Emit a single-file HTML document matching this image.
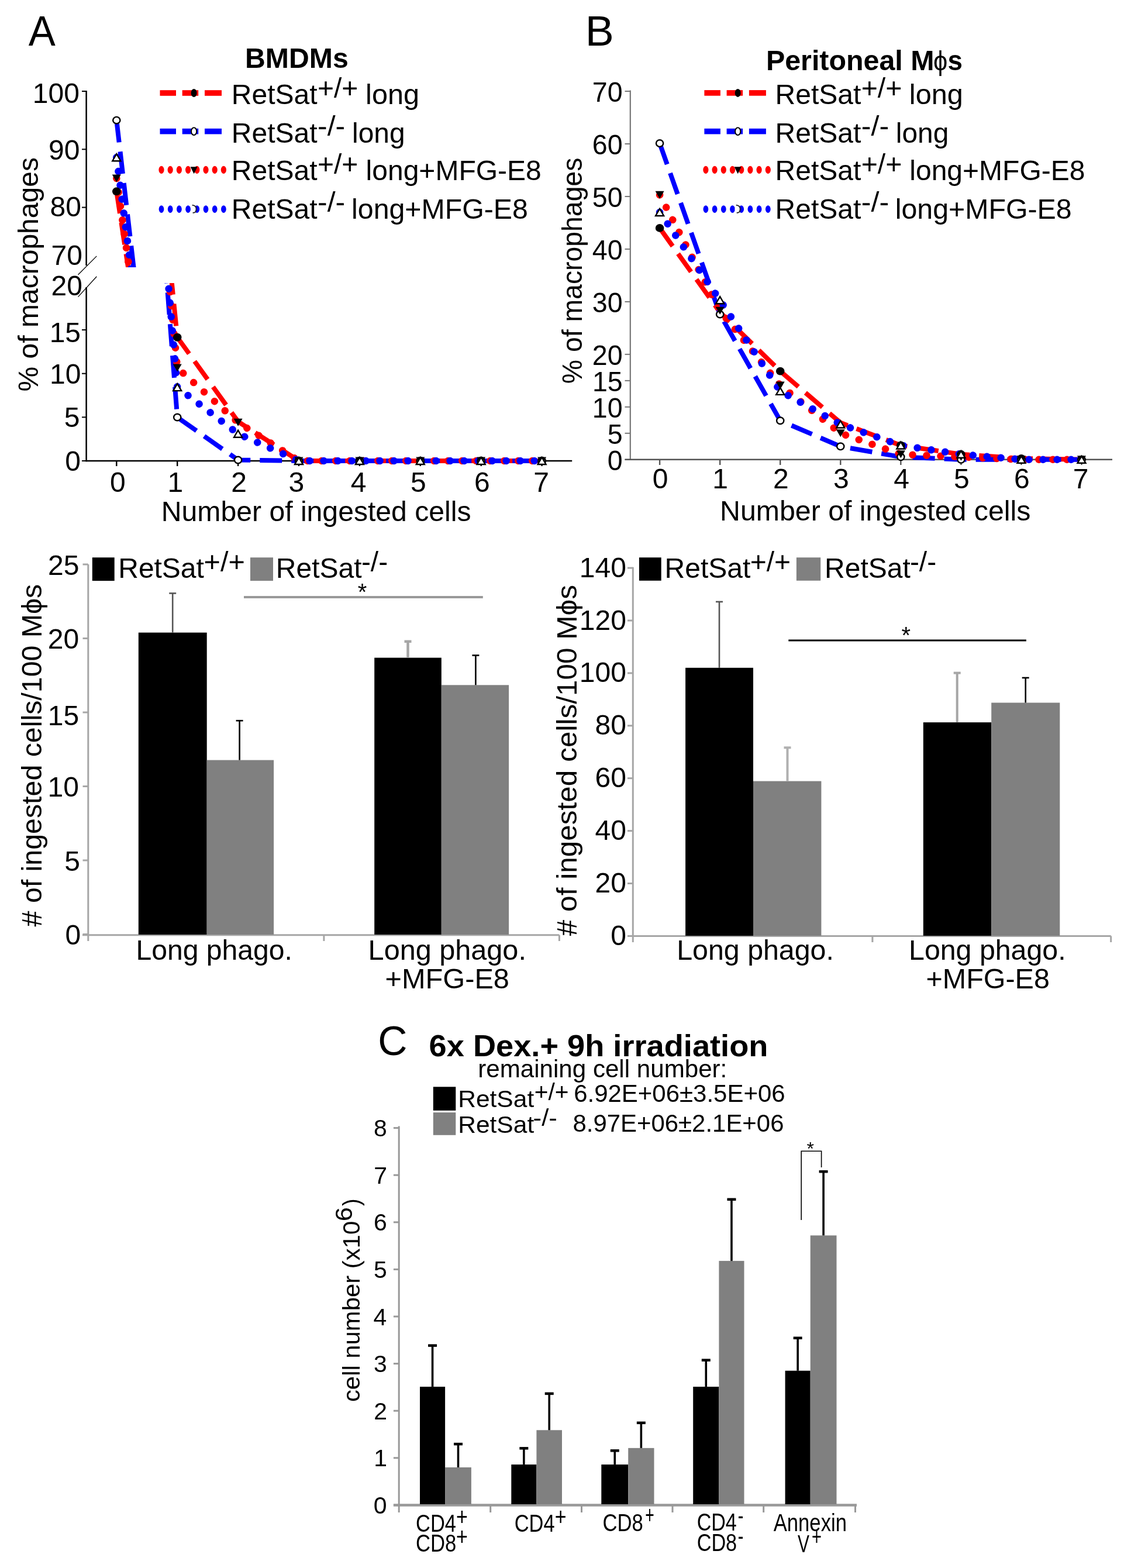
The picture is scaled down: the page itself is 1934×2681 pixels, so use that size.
<!DOCTYPE html>
<html><head><meta charset="utf-8"><title>Figure</title>
<style>
html,body{margin:0;padding:0;background:#fff;}
svg{display:block;}
text{font-family:'Liberation Sans',sans-serif;}
</style></head>
<body>
<svg width="1934" height="2681" viewBox="0 0 1934 2681">
<rect x="0" y="0" width="1934" height="2681" fill="#fff"/>
<text x="48.76" y="78.00" font-size="73" fill="#000" textLength="46.08" lengthAdjust="spacingAndGlyphs">A</text>
<text x="418.97" y="115.70" font-size="49" font-weight="bold" fill="#000" textLength="176.73" lengthAdjust="spacingAndGlyphs">BMDMs</text>
<text x="395.86" y="178.20" font-size="48" fill="#000" textLength="146.74" lengthAdjust="spacingAndGlyphs">RetSat</text>
<text x="542.95" y="166.50" font-size="48" fill="#000" textLength="69.39" lengthAdjust="spacingAndGlyphs">+/+</text>
<text x="625.14" y="178.20" font-size="48" fill="#000" textLength="92.01" lengthAdjust="spacingAndGlyphs">long</text>
<text x="395.86" y="243.50" font-size="48" fill="#000" textLength="146.74" lengthAdjust="spacingAndGlyphs">RetSat</text>
<text x="543.11" y="231.80" font-size="48" fill="#000" textLength="47.08" lengthAdjust="spacingAndGlyphs">-/-</text>
<text x="601.99" y="243.50" font-size="48" fill="#000" textLength="90.61" lengthAdjust="spacingAndGlyphs">long</text>
<text x="395.86" y="308.30" font-size="48" fill="#000" textLength="146.74" lengthAdjust="spacingAndGlyphs">RetSat</text>
<text x="542.95" y="296.60" font-size="48" fill="#000" textLength="69.39" lengthAdjust="spacingAndGlyphs">+/+</text>
<text x="625.58" y="308.30" font-size="48" fill="#000" textLength="300.20" lengthAdjust="spacingAndGlyphs">long+MFG-E8</text>
<text x="395.86" y="373.50" font-size="48" fill="#000" textLength="146.74" lengthAdjust="spacingAndGlyphs">RetSat</text>
<text x="543.11" y="361.80" font-size="48" fill="#000" textLength="47.08" lengthAdjust="spacingAndGlyphs">-/-</text>
<text x="601.07" y="373.50" font-size="48" fill="#000" textLength="301.83" lengthAdjust="spacingAndGlyphs">long+MFG-E8</text>
<rect x="273.50" y="154.20" width="27.50" height="9.60" fill="#ff0000"/>
<rect x="311.70" y="154.20" width="27.50" height="9.60" fill="#ff0000"/>
<rect x="350.00" y="154.20" width="29.00" height="9.60" fill="#ff0000"/>
<ellipse cx="331.60" cy="159.00" rx="5" ry="7" fill="#000"/>
<rect x="273.50" y="219.80" width="27.50" height="9.60" fill="#0000ff"/>
<rect x="311.70" y="219.80" width="27.50" height="9.60" fill="#0000ff"/>
<rect x="350.00" y="219.80" width="29.00" height="9.60" fill="#0000ff"/>
<ellipse cx="331.60" cy="224.60" rx="4.6" ry="6.4" fill="#fff" stroke="#000" stroke-width="2"/>
<ellipse cx="276.00" cy="290.30" rx="4.6" ry="6.6" fill="#ff0000"/>
<ellipse cx="291.20" cy="290.30" rx="4.6" ry="6.6" fill="#ff0000"/>
<ellipse cx="306.40" cy="290.30" rx="4.6" ry="6.6" fill="#ff0000"/>
<ellipse cx="321.60" cy="290.30" rx="4.6" ry="6.6" fill="#ff0000"/>
<ellipse cx="336.80" cy="290.30" rx="4.6" ry="6.6" fill="#ff0000"/>
<ellipse cx="352.00" cy="290.30" rx="4.6" ry="6.6" fill="#ff0000"/>
<ellipse cx="367.20" cy="290.30" rx="4.6" ry="6.6" fill="#ff0000"/>
<ellipse cx="382.40" cy="290.30" rx="4.6" ry="6.6" fill="#ff0000"/>
<path d="M325.60,285.30 L337.60,285.30 L331.60,297.30 Z" fill="#000"/>
<ellipse cx="276.00" cy="357.60" rx="4.4" ry="6.3" fill="#0000ff"/>
<ellipse cx="291.20" cy="357.60" rx="4.4" ry="6.3" fill="#0000ff"/>
<ellipse cx="306.40" cy="357.60" rx="4.4" ry="6.3" fill="#0000ff"/>
<ellipse cx="321.60" cy="357.60" rx="4.4" ry="6.3" fill="#0000ff"/>
<ellipse cx="336.80" cy="357.60" rx="4.4" ry="6.3" fill="#0000ff"/>
<ellipse cx="352.00" cy="357.60" rx="4.4" ry="6.3" fill="#0000ff"/>
<ellipse cx="367.20" cy="357.60" rx="4.4" ry="6.3" fill="#0000ff"/>
<ellipse cx="382.40" cy="357.60" rx="4.4" ry="6.3" fill="#0000ff"/>
<ellipse cx="330.60" cy="357.60" rx="4.2" ry="6.2" fill="#fff"/>
<path d="M328.60,350.60 Q336.60,351.60 335.60,358.60 Q334.60,364.60 329.60,363.60" fill="none" stroke="#222" stroke-width="1.8"/>
<line x1="147.60" y1="155.00" x2="147.60" y2="454.00" stroke="#000" stroke-width="2.5"/>
<line x1="147.60" y1="491.00" x2="147.60" y2="789.20" stroke="#000" stroke-width="2.5"/>
<line x1="133.50" y1="469.70" x2="165.30" y2="437.90" stroke="#000" stroke-width="1.3"/>
<line x1="133.50" y1="507.60" x2="165.30" y2="472.70" stroke="#000" stroke-width="1.3"/>
<line x1="140.00" y1="156.00" x2="147.60" y2="156.00" stroke="#000" stroke-width="2"/>
<line x1="140.00" y1="255.30" x2="147.60" y2="255.30" stroke="#000" stroke-width="2"/>
<line x1="140.00" y1="354.60" x2="147.60" y2="354.60" stroke="#000" stroke-width="2"/>
<line x1="140.00" y1="564.05" x2="147.60" y2="564.05" stroke="#000" stroke-width="2"/>
<line x1="140.00" y1="638.70" x2="147.60" y2="638.70" stroke="#000" stroke-width="2"/>
<line x1="140.00" y1="713.35" x2="147.60" y2="713.35" stroke="#000" stroke-width="2"/>
<line x1="140.00" y1="788.00" x2="147.60" y2="788.00" stroke="#000" stroke-width="2"/>
<text x="55.81" y="176.00" font-size="48" fill="#000" textLength="80.09" lengthAdjust="spacingAndGlyphs">100</text>
<text x="83.00" y="273.00" font-size="48" fill="#000" textLength="53.39" lengthAdjust="spacingAndGlyphs">90</text>
<text x="85.50" y="370.20" font-size="48" fill="#000" textLength="53.39" lengthAdjust="spacingAndGlyphs">80</text>
<text x="87.50" y="453.00" font-size="48" fill="#000" textLength="53.39" lengthAdjust="spacingAndGlyphs">70</text>
<text x="87.50" y="504.60" font-size="48" fill="#000" textLength="53.39" lengthAdjust="spacingAndGlyphs">20</text>
<text x="84.64" y="584.50" font-size="48" fill="#000" textLength="53.39" lengthAdjust="spacingAndGlyphs">15</text>
<text x="85.00" y="655.90" font-size="48" fill="#000" textLength="53.39" lengthAdjust="spacingAndGlyphs">10</text>
<text x="109.83" y="729.50" font-size="48" fill="#000" textLength="26.70" lengthAdjust="spacingAndGlyphs">5</text>
<text x="111.18" y="805.00" font-size="48" fill="#000" textLength="26.70" lengthAdjust="spacingAndGlyphs">0</text>
<line x1="146.40" y1="788.00" x2="978.20" y2="788.00" stroke="#000" stroke-width="2.5"/>
<line x1="199.30" y1="788.00" x2="199.30" y2="797.00" stroke="#000" stroke-width="2.4"/>
<line x1="303.20" y1="788.00" x2="303.20" y2="797.00" stroke="#000" stroke-width="2.4"/>
<line x1="407.10" y1="788.00" x2="407.10" y2="797.00" stroke="#000" stroke-width="2.4"/>
<line x1="511.00" y1="788.00" x2="511.00" y2="797.00" stroke="#000" stroke-width="2.4"/>
<line x1="614.90" y1="788.00" x2="614.90" y2="797.00" stroke="#000" stroke-width="2.4"/>
<line x1="718.80" y1="788.00" x2="718.80" y2="797.00" stroke="#000" stroke-width="2.4"/>
<line x1="822.70" y1="788.00" x2="822.70" y2="797.00" stroke="#000" stroke-width="2.4"/>
<line x1="926.60" y1="788.00" x2="926.60" y2="797.00" stroke="#000" stroke-width="2.4"/>
<text x="188.06" y="840.60" font-size="48" fill="#000" textLength="26.70" lengthAdjust="spacingAndGlyphs">0</text>
<text x="286.61" y="840.60" font-size="48" fill="#000" textLength="26.70" lengthAdjust="spacingAndGlyphs">1</text>
<text x="395.16" y="840.60" font-size="48" fill="#000" textLength="26.70" lengthAdjust="spacingAndGlyphs">2</text>
<text x="493.50" y="840.60" font-size="48" fill="#000" textLength="26.70" lengthAdjust="spacingAndGlyphs">3</text>
<text x="599.70" y="840.60" font-size="48" fill="#000" textLength="26.70" lengthAdjust="spacingAndGlyphs">4</text>
<text x="702.00" y="840.60" font-size="48" fill="#000" textLength="26.70" lengthAdjust="spacingAndGlyphs">5</text>
<text x="811.09" y="840.60" font-size="48" fill="#000" textLength="26.70" lengthAdjust="spacingAndGlyphs">6</text>
<text x="912.13" y="840.60" font-size="48" fill="#000" textLength="26.70" lengthAdjust="spacingAndGlyphs">7</text>
<text x="275.85" y="890.70" font-size="48" fill="#000" textLength="529.70" lengthAdjust="spacingAndGlyphs">Number of ingested cells</text>
<text transform="translate(64.50,667.70) rotate(-90)" x="-1.73" y="0" font-size="48" fill="#000" textLength="400.35" lengthAdjust="spacingAndGlyphs">% of macrophages</text>
<defs><clipPath id="cAu"><rect x="140" y="0" width="850" height="457"/></clipPath><clipPath id="cAl"><rect x="140" y="484" width="850" height="320"/></clipPath><clipPath id="cB"><rect x="1070" y="100" width="850" height="720"/></clipPath></defs>
<path d="M199.30,327.29 L303.20,1008.49" fill="none" stroke="#ff0000" stroke-width="8" stroke-dasharray="38 16" stroke-linecap="butt" stroke-linejoin="round" clip-path="url(#cAu)"/>
<path d="M199.30,-447.46 L303.20,576.74 L407.10,720.82 L511.00,788.00 L614.90,788.00 L718.80,788.00 L822.70,788.00 L926.60,788.00" fill="none" stroke="#ff0000" stroke-width="8" stroke-dasharray="38 16" stroke-linecap="butt" stroke-linejoin="round" clip-path="url(#cAl)"/>
<path d="M199.30,205.65 L303.20,1099.45" fill="none" stroke="#0000ff" stroke-width="8" stroke-dasharray="38 16" stroke-linecap="butt" stroke-linejoin="round" clip-path="url(#cAu)"/>
<path d="M199.30,-630.35 L303.20,713.50 L407.10,786.51 L511.00,788.00 L614.90,788.00 L718.80,788.00 L822.70,788.00 L926.60,788.00" fill="none" stroke="#0000ff" stroke-width="8" stroke-dasharray="38 16" stroke-linecap="butt" stroke-linejoin="round" clip-path="url(#cAl)"/>
<path d="M199.30,304.95 L303.20,1043.25" fill="none" stroke="#ff0000" stroke-width="12.5" stroke-dasharray="0.01 24" stroke-linecap="round" stroke-linejoin="round" clip-path="url(#cAu)"/>
<path d="M199.30,-481.05 L303.20,629.00 L407.10,722.31 L511.00,788.00 L614.90,788.00 L718.80,788.00 L822.70,788.00 L926.60,788.00" fill="none" stroke="#ff0000" stroke-width="12.5" stroke-dasharray="0.01 24" stroke-linecap="round" stroke-linejoin="round" clip-path="url(#cAl)"/>
<path d="M199.30,269.20 L303.20,1065.29" fill="none" stroke="#0000ff" stroke-width="12.5" stroke-dasharray="0.01 24" stroke-linecap="round" stroke-linejoin="round" clip-path="url(#cAu)"/>
<path d="M199.30,-534.80 L303.20,662.14 L407.10,741.72 L511.00,788.00 L614.90,788.00 L718.80,788.00 L822.70,788.00 L926.60,788.00" fill="none" stroke="#0000ff" stroke-width="12.5" stroke-dasharray="0.01 24" stroke-linecap="round" stroke-linejoin="round" clip-path="url(#cAl)"/>
<ellipse cx="199.30" cy="327.29" rx="7.30" ry="6.93" fill="#000"/>
<ellipse cx="303.20" cy="576.74" rx="7.30" ry="6.93" fill="#000"/>
<ellipse cx="511.00" cy="788.00" rx="7.30" ry="6.93" fill="#000"/>
<ellipse cx="614.90" cy="788.00" rx="7.30" ry="6.93" fill="#000"/>
<ellipse cx="718.80" cy="788.00" rx="7.30" ry="6.93" fill="#000"/>
<ellipse cx="822.70" cy="788.00" rx="7.30" ry="6.93" fill="#000"/>
<ellipse cx="926.60" cy="788.00" rx="7.30" ry="6.93" fill="#000"/>
<ellipse cx="199.30" cy="205.65" rx="6.10" ry="5.79" fill="#fff" stroke="#000" stroke-width="2.40"/>
<ellipse cx="303.20" cy="713.50" rx="6.10" ry="5.79" fill="#fff" stroke="#000" stroke-width="2.40"/>
<ellipse cx="407.10" cy="786.51" rx="6.10" ry="5.79" fill="#fff" stroke="#000" stroke-width="2.40"/>
<ellipse cx="511.00" cy="788.00" rx="6.10" ry="5.79" fill="#fff" stroke="#000" stroke-width="2.40"/>
<ellipse cx="614.90" cy="788.00" rx="6.10" ry="5.79" fill="#fff" stroke="#000" stroke-width="2.40"/>
<ellipse cx="718.80" cy="788.00" rx="6.10" ry="5.79" fill="#fff" stroke="#000" stroke-width="2.40"/>
<ellipse cx="822.70" cy="788.00" rx="6.10" ry="5.79" fill="#fff" stroke="#000" stroke-width="2.40"/>
<ellipse cx="926.60" cy="788.00" rx="6.10" ry="5.79" fill="#fff" stroke="#000" stroke-width="2.40"/>
<path d="M191.80,298.45 L206.80,298.45 L199.30,311.45 Z" fill="#000"/>
<path d="M295.70,622.50 L310.70,622.50 L303.20,635.50 Z" fill="#000"/>
<path d="M399.60,715.81 L414.60,715.81 L407.10,728.81 Z" fill="#000"/>
<path d="M503.50,781.50 L518.50,781.50 L511.00,794.50 Z" fill="#000"/>
<path d="M607.40,781.50 L622.40,781.50 L614.90,794.50 Z" fill="#000"/>
<path d="M711.30,781.50 L726.30,781.50 L718.80,794.50 Z" fill="#000"/>
<path d="M815.20,781.50 L830.20,781.50 L822.70,794.50 Z" fill="#000"/>
<path d="M919.10,781.50 L934.10,781.50 L926.60,794.50 Z" fill="#000"/>
<path d="M192.30,275.20 L206.30,275.20 L199.30,263.20 Z" fill="#fff" stroke="#000" stroke-width="2.40" stroke-linejoin="miter"/>
<path d="M296.20,668.14 L310.20,668.14 L303.20,656.14 Z" fill="#fff" stroke="#000" stroke-width="2.40" stroke-linejoin="miter"/>
<path d="M400.10,747.72 L414.10,747.72 L407.10,735.72 Z" fill="#fff" stroke="#000" stroke-width="2.40" stroke-linejoin="miter"/>
<path d="M504.00,794.00 L518.00,794.00 L511.00,782.00 Z" fill="#fff" stroke="#000" stroke-width="2.40" stroke-linejoin="miter"/>
<path d="M607.90,794.00 L621.90,794.00 L614.90,782.00 Z" fill="#fff" stroke="#000" stroke-width="2.40" stroke-linejoin="miter"/>
<path d="M711.80,794.00 L725.80,794.00 L718.80,782.00 Z" fill="#fff" stroke="#000" stroke-width="2.40" stroke-linejoin="miter"/>
<path d="M815.70,794.00 L829.70,794.00 L822.70,782.00 Z" fill="#fff" stroke="#000" stroke-width="2.40" stroke-linejoin="miter"/>
<path d="M919.60,794.00 L933.60,794.00 L926.60,782.00 Z" fill="#fff" stroke="#000" stroke-width="2.40" stroke-linejoin="miter"/>
<text x="1000.87" y="78.20" font-size="73" fill="#000" textLength="49.02" lengthAdjust="spacingAndGlyphs">B</text>
<text x="1309.96" y="120.00" font-size="49" font-weight="bold" fill="#000" textLength="287.57" lengthAdjust="spacingAndGlyphs">Peritoneal M</text>
<text x="1596.11" y="120.00" font-size="46" fill="#000" textLength="24.28" lengthAdjust="spacingAndGlyphs">ϕ</text>
<text x="1620.60" y="120.00" font-size="49" font-weight="bold" fill="#000" textLength="25.49" lengthAdjust="spacingAndGlyphs">s</text>
<text x="1325.56" y="178.20" font-size="48" fill="#000" textLength="146.74" lengthAdjust="spacingAndGlyphs">RetSat</text>
<text x="1472.64" y="166.50" font-size="48" fill="#000" textLength="69.72" lengthAdjust="spacingAndGlyphs">+/+</text>
<text x="1554.84" y="178.20" font-size="48" fill="#000" textLength="92.01" lengthAdjust="spacingAndGlyphs">long</text>
<text x="1325.56" y="243.50" font-size="48" fill="#000" textLength="146.74" lengthAdjust="spacingAndGlyphs">RetSat</text>
<text x="1472.79" y="231.80" font-size="48" fill="#000" textLength="47.41" lengthAdjust="spacingAndGlyphs">-/-</text>
<text x="1531.79" y="243.50" font-size="48" fill="#000" textLength="90.50" lengthAdjust="spacingAndGlyphs">long</text>
<text x="1325.56" y="308.30" font-size="48" fill="#000" textLength="146.74" lengthAdjust="spacingAndGlyphs">RetSat</text>
<text x="1472.64" y="296.60" font-size="48" fill="#000" textLength="69.72" lengthAdjust="spacingAndGlyphs">+/+</text>
<text x="1555.28" y="308.30" font-size="48" fill="#000" textLength="300.20" lengthAdjust="spacingAndGlyphs">long+MFG-E8</text>
<text x="1325.56" y="373.50" font-size="48" fill="#000" textLength="146.74" lengthAdjust="spacingAndGlyphs">RetSat</text>
<text x="1472.79" y="361.80" font-size="48" fill="#000" textLength="47.41" lengthAdjust="spacingAndGlyphs">-/-</text>
<text x="1530.77" y="373.50" font-size="48" fill="#000" textLength="301.83" lengthAdjust="spacingAndGlyphs">long+MFG-E8</text>
<rect x="1204.40" y="154.10" width="27.50" height="9.60" fill="#ff0000"/>
<rect x="1242.60" y="154.10" width="27.50" height="9.60" fill="#ff0000"/>
<rect x="1280.90" y="154.10" width="29.00" height="9.60" fill="#ff0000"/>
<ellipse cx="1261.70" cy="158.90" rx="5" ry="7" fill="#000"/>
<rect x="1204.40" y="219.80" width="27.50" height="9.60" fill="#0000ff"/>
<rect x="1242.60" y="219.80" width="27.50" height="9.60" fill="#0000ff"/>
<rect x="1280.90" y="219.80" width="29.00" height="9.60" fill="#0000ff"/>
<ellipse cx="1261.70" cy="224.60" rx="4.6" ry="6.4" fill="#fff" stroke="#000" stroke-width="2"/>
<ellipse cx="1206.90" cy="290.30" rx="4.6" ry="6.6" fill="#ff0000"/>
<ellipse cx="1222.10" cy="290.30" rx="4.6" ry="6.6" fill="#ff0000"/>
<ellipse cx="1237.30" cy="290.30" rx="4.6" ry="6.6" fill="#ff0000"/>
<ellipse cx="1252.50" cy="290.30" rx="4.6" ry="6.6" fill="#ff0000"/>
<ellipse cx="1267.70" cy="290.30" rx="4.6" ry="6.6" fill="#ff0000"/>
<ellipse cx="1282.90" cy="290.30" rx="4.6" ry="6.6" fill="#ff0000"/>
<ellipse cx="1298.10" cy="290.30" rx="4.6" ry="6.6" fill="#ff0000"/>
<ellipse cx="1313.30" cy="290.30" rx="4.6" ry="6.6" fill="#ff0000"/>
<path d="M1255.70,285.30 L1267.70,285.30 L1261.70,297.30 Z" fill="#000"/>
<ellipse cx="1206.90" cy="357.60" rx="4.4" ry="6.3" fill="#0000ff"/>
<ellipse cx="1222.10" cy="357.60" rx="4.4" ry="6.3" fill="#0000ff"/>
<ellipse cx="1237.30" cy="357.60" rx="4.4" ry="6.3" fill="#0000ff"/>
<ellipse cx="1252.50" cy="357.60" rx="4.4" ry="6.3" fill="#0000ff"/>
<ellipse cx="1267.70" cy="357.60" rx="4.4" ry="6.3" fill="#0000ff"/>
<ellipse cx="1282.90" cy="357.60" rx="4.4" ry="6.3" fill="#0000ff"/>
<ellipse cx="1298.10" cy="357.60" rx="4.4" ry="6.3" fill="#0000ff"/>
<ellipse cx="1313.30" cy="357.60" rx="4.4" ry="6.3" fill="#0000ff"/>
<ellipse cx="1260.70" cy="357.60" rx="4.2" ry="6.2" fill="#fff"/>
<path d="M1258.70,350.60 Q1266.70,351.60 1265.70,358.60 Q1264.70,364.60 1259.70,363.60" fill="none" stroke="#222" stroke-width="1.8"/>
<line x1="1077.80" y1="154.50" x2="1077.80" y2="787.00" stroke="#777" stroke-width="2.2"/>
<line x1="1068.50" y1="156.01" x2="1077.80" y2="156.01" stroke="#777" stroke-width="2"/>
<text x="1012.84" y="174.01" font-size="48" fill="#000" textLength="51.79" lengthAdjust="spacingAndGlyphs">70</text>
<line x1="1068.50" y1="245.98" x2="1077.80" y2="245.98" stroke="#777" stroke-width="2"/>
<text x="1012.84" y="263.98" font-size="48" fill="#000" textLength="51.79" lengthAdjust="spacingAndGlyphs">60</text>
<line x1="1068.50" y1="335.95" x2="1077.80" y2="335.95" stroke="#777" stroke-width="2"/>
<text x="1012.84" y="353.95" font-size="48" fill="#000" textLength="51.79" lengthAdjust="spacingAndGlyphs">50</text>
<line x1="1068.50" y1="425.92" x2="1077.80" y2="425.92" stroke="#777" stroke-width="2"/>
<text x="1012.84" y="443.92" font-size="48" fill="#000" textLength="51.79" lengthAdjust="spacingAndGlyphs">40</text>
<line x1="1068.50" y1="515.89" x2="1077.80" y2="515.89" stroke="#777" stroke-width="2"/>
<text x="1012.84" y="533.89" font-size="48" fill="#000" textLength="51.79" lengthAdjust="spacingAndGlyphs">30</text>
<line x1="1068.50" y1="605.86" x2="1077.80" y2="605.86" stroke="#777" stroke-width="2"/>
<text x="1012.84" y="623.86" font-size="48" fill="#000" textLength="51.79" lengthAdjust="spacingAndGlyphs">20</text>
<line x1="1068.50" y1="650.85" x2="1077.80" y2="650.85" stroke="#777" stroke-width="2"/>
<text x="1012.98" y="668.85" font-size="48" fill="#000" textLength="51.79" lengthAdjust="spacingAndGlyphs">15</text>
<line x1="1068.50" y1="695.83" x2="1077.80" y2="695.83" stroke="#777" stroke-width="2"/>
<text x="1012.84" y="713.83" font-size="48" fill="#000" textLength="51.79" lengthAdjust="spacingAndGlyphs">10</text>
<line x1="1068.50" y1="740.81" x2="1077.80" y2="740.81" stroke="#777" stroke-width="2"/>
<text x="1038.87" y="758.81" font-size="48" fill="#000" textLength="25.89" lengthAdjust="spacingAndGlyphs">5</text>
<line x1="1068.50" y1="785.80" x2="1077.80" y2="785.80" stroke="#777" stroke-width="2"/>
<text x="1038.73" y="803.80" font-size="48" fill="#000" textLength="25.89" lengthAdjust="spacingAndGlyphs">0</text>
<line x1="1068.50" y1="785.80" x2="1902.00" y2="785.80" stroke="#555" stroke-width="2.5"/>
<line x1="1128.10" y1="785.80" x2="1128.10" y2="795.00" stroke="#555" stroke-width="2.4"/>
<line x1="1231.16" y1="785.80" x2="1231.16" y2="795.00" stroke="#555" stroke-width="2.4"/>
<line x1="1334.22" y1="785.80" x2="1334.22" y2="795.00" stroke="#555" stroke-width="2.4"/>
<line x1="1437.28" y1="785.80" x2="1437.28" y2="795.00" stroke="#555" stroke-width="2.4"/>
<line x1="1540.34" y1="785.80" x2="1540.34" y2="795.00" stroke="#555" stroke-width="2.4"/>
<line x1="1643.40" y1="785.80" x2="1643.40" y2="795.00" stroke="#555" stroke-width="2.4"/>
<line x1="1746.46" y1="785.80" x2="1746.46" y2="795.00" stroke="#555" stroke-width="2.4"/>
<line x1="1849.52" y1="785.80" x2="1849.52" y2="795.00" stroke="#555" stroke-width="2.4"/>
<text x="1115.76" y="834.50" font-size="48" fill="#000" textLength="26.70" lengthAdjust="spacingAndGlyphs">0</text>
<text x="1218.17" y="834.50" font-size="48" fill="#000" textLength="26.70" lengthAdjust="spacingAndGlyphs">1</text>
<text x="1321.88" y="834.50" font-size="48" fill="#000" textLength="26.70" lengthAdjust="spacingAndGlyphs">2</text>
<text x="1425.08" y="834.50" font-size="48" fill="#000" textLength="26.70" lengthAdjust="spacingAndGlyphs">3</text>
<text x="1528.14" y="834.50" font-size="48" fill="#000" textLength="26.70" lengthAdjust="spacingAndGlyphs">4</text>
<text x="1631.10" y="834.50" font-size="48" fill="#000" textLength="26.70" lengthAdjust="spacingAndGlyphs">5</text>
<text x="1733.95" y="834.50" font-size="48" fill="#000" textLength="26.70" lengthAdjust="spacingAndGlyphs">6</text>
<text x="1834.65" y="834.50" font-size="48" fill="#000" textLength="26.70" lengthAdjust="spacingAndGlyphs">7</text>
<text x="1231.04" y="889.50" font-size="48" fill="#000" textLength="531.42" lengthAdjust="spacingAndGlyphs">Number of ingested cells</text>
<text transform="translate(994.60,654.50) rotate(-90)" x="-1.67" y="0" font-size="48" fill="#000" textLength="386.53" lengthAdjust="spacingAndGlyphs">% of macrophages</text>
<path d="M1128.10,389.93 L1231.16,533.88 L1334.22,634.65 L1437.28,722.82 L1540.34,761.51 L1643.40,776.80 L1746.46,784.00 L1849.52,785.80" fill="none" stroke="#ff0000" stroke-width="8" stroke-dasharray="38 16" stroke-linecap="butt" stroke-linejoin="round" clip-path="url(#cB)"/>
<path d="M1128.10,245.08 L1231.16,537.48 L1334.22,719.22 L1437.28,763.31 L1540.34,781.30 L1643.40,785.80 L1746.46,785.80 L1849.52,785.80" fill="none" stroke="#0000ff" stroke-width="8" stroke-dasharray="38 16" stroke-linecap="butt" stroke-linejoin="round" clip-path="url(#cB)"/>
<path d="M1128.10,333.25 L1231.16,531.18 L1334.22,658.94 L1437.28,740.81 L1540.34,776.80 L1643.40,781.30 L1746.46,785.80 L1849.52,785.80" fill="none" stroke="#ff0000" stroke-width="12.5" stroke-dasharray="0.01 24" stroke-linecap="round" stroke-linejoin="round" clip-path="url(#cB)"/>
<path d="M1128.10,362.94 L1231.16,513.19 L1334.22,668.84 L1437.28,725.52 L1540.34,761.51 L1643.40,776.80 L1746.46,785.80 L1849.52,785.80" fill="none" stroke="#0000ff" stroke-width="12.5" stroke-dasharray="0.01 24" stroke-linecap="round" stroke-linejoin="round" clip-path="url(#cB)"/>
<ellipse cx="1128.10" cy="389.93" rx="7.30" ry="6.93" fill="#000"/>
<ellipse cx="1334.22" cy="634.65" rx="7.30" ry="6.93" fill="#000"/>
<ellipse cx="1540.34" cy="761.51" rx="7.30" ry="6.93" fill="#000"/>
<ellipse cx="1643.40" cy="776.80" rx="7.30" ry="6.93" fill="#000"/>
<ellipse cx="1746.46" cy="784.00" rx="7.30" ry="6.93" fill="#000"/>
<ellipse cx="1849.52" cy="785.80" rx="7.30" ry="6.93" fill="#000"/>
<ellipse cx="1128.10" cy="245.08" rx="6.10" ry="5.79" fill="#fff" stroke="#000" stroke-width="2.40"/>
<ellipse cx="1231.16" cy="537.48" rx="6.10" ry="5.79" fill="#fff" stroke="#000" stroke-width="2.40"/>
<ellipse cx="1334.22" cy="719.22" rx="6.10" ry="5.79" fill="#fff" stroke="#000" stroke-width="2.40"/>
<ellipse cx="1437.28" cy="763.31" rx="6.10" ry="5.79" fill="#fff" stroke="#000" stroke-width="2.40"/>
<ellipse cx="1540.34" cy="781.30" rx="6.10" ry="5.79" fill="#fff" stroke="#000" stroke-width="2.40"/>
<ellipse cx="1643.40" cy="785.80" rx="6.10" ry="5.79" fill="#fff" stroke="#000" stroke-width="2.40"/>
<ellipse cx="1746.46" cy="785.80" rx="6.10" ry="5.79" fill="#fff" stroke="#000" stroke-width="2.40"/>
<ellipse cx="1849.52" cy="785.80" rx="6.10" ry="5.79" fill="#fff" stroke="#000" stroke-width="2.40"/>
<path d="M1120.60,326.75 L1135.60,326.75 L1128.10,339.75 Z" fill="#000"/>
<path d="M1223.66,524.68 L1238.66,524.68 L1231.16,537.68 Z" fill="#000"/>
<path d="M1326.72,652.44 L1341.72,652.44 L1334.22,665.44 Z" fill="#000"/>
<path d="M1429.78,734.31 L1444.78,734.31 L1437.28,747.31 Z" fill="#000"/>
<path d="M1532.84,770.30 L1547.84,770.30 L1540.34,783.30 Z" fill="#000"/>
<path d="M1635.90,774.80 L1650.90,774.80 L1643.40,787.80 Z" fill="#000"/>
<path d="M1738.96,779.30 L1753.96,779.30 L1746.46,792.30 Z" fill="#000"/>
<path d="M1842.02,779.30 L1857.02,779.30 L1849.52,792.30 Z" fill="#000"/>
<path d="M1121.10,368.94 L1135.10,368.94 L1128.10,356.94 Z" fill="#fff" stroke="#000" stroke-width="2.40" stroke-linejoin="miter"/>
<path d="M1224.16,519.19 L1238.16,519.19 L1231.16,507.19 Z" fill="#fff" stroke="#000" stroke-width="2.40" stroke-linejoin="miter"/>
<path d="M1327.22,674.84 L1341.22,674.84 L1334.22,662.84 Z" fill="#fff" stroke="#000" stroke-width="2.40" stroke-linejoin="miter"/>
<path d="M1430.28,731.52 L1444.28,731.52 L1437.28,719.52 Z" fill="#fff" stroke="#000" stroke-width="2.40" stroke-linejoin="miter"/>
<path d="M1533.34,767.51 L1547.34,767.51 L1540.34,755.51 Z" fill="#fff" stroke="#000" stroke-width="2.40" stroke-linejoin="miter"/>
<path d="M1636.40,782.80 L1650.40,782.80 L1643.40,770.80 Z" fill="#fff" stroke="#000" stroke-width="2.40" stroke-linejoin="miter"/>
<path d="M1739.46,791.80 L1753.46,791.80 L1746.46,779.80 Z" fill="#fff" stroke="#000" stroke-width="2.40" stroke-linejoin="miter"/>
<path d="M1842.52,791.80 L1856.52,791.80 L1849.52,779.80 Z" fill="#fff" stroke="#000" stroke-width="2.40" stroke-linejoin="miter"/>
<line x1="150.80" y1="965.00" x2="150.80" y2="1609.00" stroke="#a6a6a6" stroke-width="3"/>
<line x1="141.50" y1="1597.50" x2="150.80" y2="1597.50" stroke="#a6a6a6" stroke-width="3"/>
<text x="111.58" y="1615.00" font-size="48" fill="#000" textLength="26.70" lengthAdjust="spacingAndGlyphs">0</text>
<line x1="141.50" y1="1471.00" x2="150.80" y2="1471.00" stroke="#a6a6a6" stroke-width="3"/>
<text x="110.23" y="1488.50" font-size="48" fill="#000" textLength="26.70" lengthAdjust="spacingAndGlyphs">5</text>
<line x1="141.50" y1="1344.50" x2="150.80" y2="1344.50" stroke="#a6a6a6" stroke-width="3"/>
<text x="81.60" y="1362.00" font-size="48" fill="#000" textLength="53.39" lengthAdjust="spacingAndGlyphs">10</text>
<line x1="141.50" y1="1218.00" x2="150.80" y2="1218.00" stroke="#a6a6a6" stroke-width="3"/>
<text x="81.74" y="1240.00" font-size="48" fill="#000" textLength="53.39" lengthAdjust="spacingAndGlyphs">15</text>
<line x1="141.50" y1="1091.50" x2="150.80" y2="1091.50" stroke="#a6a6a6" stroke-width="3"/>
<text x="81.80" y="1109.00" font-size="48" fill="#000" textLength="53.39" lengthAdjust="spacingAndGlyphs">20</text>
<line x1="141.50" y1="965.00" x2="150.80" y2="965.00" stroke="#a6a6a6" stroke-width="3"/>
<text x="81.94" y="982.50" font-size="48" fill="#000" textLength="53.39" lengthAdjust="spacingAndGlyphs">25</text>
<line x1="141.00" y1="1598.80" x2="956.40" y2="1598.80" stroke="#a6a6a6" stroke-width="3"/>
<line x1="553.90" y1="1598.80" x2="553.90" y2="1609.00" stroke="#a6a6a6" stroke-width="3"/>
<line x1="956.40" y1="1598.80" x2="956.40" y2="1609.00" stroke="#a6a6a6" stroke-width="3"/>
<rect x="236.80" y="1081.60" width="116.90" height="516.40" fill="#000"/>
<rect x="353.70" y="1299.60" width="114.40" height="298.40" fill="#808080"/>
<rect x="640.20" y="1124.60" width="114.60" height="473.40" fill="#000"/>
<rect x="754.80" y="1171.30" width="115.30" height="426.70" fill="#808080"/>
<line x1="295.20" y1="1014.40" x2="295.20" y2="1081.60" stroke="#555" stroke-width="2.6"/>
<line x1="289.20" y1="1014.40" x2="301.20" y2="1014.40" stroke="#555" stroke-width="2.6"/>
<line x1="409.60" y1="1232.20" x2="409.60" y2="1299.60" stroke="#000" stroke-width="2.6"/>
<line x1="403.60" y1="1232.20" x2="415.60" y2="1232.20" stroke="#000" stroke-width="2.6"/>
<line x1="697.50" y1="1096.80" x2="697.50" y2="1124.60" stroke="#a6a6a6" stroke-width="4.5"/>
<line x1="691.50" y1="1096.80" x2="703.50" y2="1096.80" stroke="#a6a6a6" stroke-width="4.5"/>
<line x1="813.40" y1="1120.50" x2="813.40" y2="1171.30" stroke="#000" stroke-width="2.6"/>
<line x1="807.40" y1="1120.50" x2="819.40" y2="1120.50" stroke="#000" stroke-width="2.6"/>
<line x1="417.00" y1="1021.00" x2="825.80" y2="1021.00" stroke="#999" stroke-width="4"/>
<text x="611.72" y="1026.00" font-size="40" fill="#000" textLength="15.57" lengthAdjust="spacingAndGlyphs">*</text>
<rect x="157.80" y="953.20" width="37.90" height="39.90" fill="#000"/>
<text x="202.27" y="988.20" font-size="48" fill="#000" textLength="146.57" lengthAdjust="spacingAndGlyphs">RetSat</text>
<text x="348.62" y="976.50" font-size="48" fill="#000" textLength="70.25" lengthAdjust="spacingAndGlyphs">+/+</text>
<rect x="428.00" y="953.20" width="39.00" height="39.90" fill="#808080"/>
<text x="471.86" y="988.20" font-size="48" fill="#000" textLength="146.74" lengthAdjust="spacingAndGlyphs">RetSat</text>
<text x="617.89" y="976.50" font-size="48" fill="#000" textLength="45.31" lengthAdjust="spacingAndGlyphs">-/-</text>
<text transform="translate(70.50,1584.20) rotate(-90)" x="-0.19" y="0" font-size="48" fill="#000" textLength="585.64" lengthAdjust="spacingAndGlyphs"># of ingested cells/100 Mϕs</text>
<text x="232.46" y="1641.30" font-size="48" fill="#000" textLength="267.42" lengthAdjust="spacingAndGlyphs">Long phago.</text>
<text x="629.61" y="1641.30" font-size="48" fill="#000" textLength="270.31" lengthAdjust="spacingAndGlyphs">Long phago.</text>
<text x="658.51" y="1690.00" font-size="48" fill="#000" textLength="212.47" lengthAdjust="spacingAndGlyphs">+MFG-E8</text>
<line x1="1082.30" y1="969.70" x2="1082.30" y2="1611.00" stroke="#a6a6a6" stroke-width="3"/>
<line x1="1073.00" y1="1600.40" x2="1082.30" y2="1600.40" stroke="#a6a6a6" stroke-width="3"/>
<text x="1044.18" y="1615.90" font-size="48" fill="#000" textLength="26.70" lengthAdjust="spacingAndGlyphs">0</text>
<line x1="1073.00" y1="1510.50" x2="1082.30" y2="1510.50" stroke="#a6a6a6" stroke-width="3"/>
<text x="1017.50" y="1526.00" font-size="48" fill="#000" textLength="53.39" lengthAdjust="spacingAndGlyphs">20</text>
<line x1="1073.00" y1="1420.60" x2="1082.30" y2="1420.60" stroke="#a6a6a6" stroke-width="3"/>
<text x="1017.50" y="1436.10" font-size="48" fill="#000" textLength="53.39" lengthAdjust="spacingAndGlyphs">40</text>
<line x1="1073.00" y1="1330.70" x2="1082.30" y2="1330.70" stroke="#a6a6a6" stroke-width="3"/>
<text x="1017.50" y="1346.20" font-size="48" fill="#000" textLength="53.39" lengthAdjust="spacingAndGlyphs">60</text>
<line x1="1073.00" y1="1240.80" x2="1082.30" y2="1240.80" stroke="#a6a6a6" stroke-width="3"/>
<text x="1017.50" y="1256.30" font-size="48" fill="#000" textLength="53.39" lengthAdjust="spacingAndGlyphs">80</text>
<line x1="1073.00" y1="1150.90" x2="1082.30" y2="1150.90" stroke="#a6a6a6" stroke-width="3"/>
<text x="990.81" y="1166.40" font-size="48" fill="#000" textLength="80.09" lengthAdjust="spacingAndGlyphs">100</text>
<line x1="1073.00" y1="1061.00" x2="1082.30" y2="1061.00" stroke="#a6a6a6" stroke-width="3"/>
<text x="990.81" y="1076.50" font-size="48" fill="#000" textLength="80.09" lengthAdjust="spacingAndGlyphs">120</text>
<line x1="1073.00" y1="971.10" x2="1082.30" y2="971.10" stroke="#a6a6a6" stroke-width="3"/>
<text x="990.81" y="986.60" font-size="48" fill="#000" textLength="80.09" lengthAdjust="spacingAndGlyphs">140</text>
<line x1="1073.00" y1="1600.40" x2="1899.70" y2="1600.40" stroke="#a6a6a6" stroke-width="3"/>
<line x1="1491.90" y1="1600.40" x2="1491.90" y2="1611.00" stroke="#a6a6a6" stroke-width="3"/>
<line x1="1899.70" y1="1600.40" x2="1899.70" y2="1611.00" stroke="#a6a6a6" stroke-width="3"/>
<rect x="1172.10" y="1141.80" width="115.90" height="458.20" fill="#000"/>
<rect x="1288.00" y="1335.60" width="116.40" height="264.40" fill="#808080"/>
<rect x="1578.80" y="1235.10" width="116.40" height="364.90" fill="#000"/>
<rect x="1695.20" y="1201.50" width="117.10" height="398.50" fill="#808080"/>
<line x1="1230.00" y1="1028.90" x2="1230.00" y2="1141.80" stroke="#555" stroke-width="2.6"/>
<line x1="1224.00" y1="1028.90" x2="1236.00" y2="1028.90" stroke="#555" stroke-width="2.6"/>
<line x1="1346.50" y1="1278.30" x2="1346.50" y2="1335.60" stroke="#b0b0b0" stroke-width="4"/>
<line x1="1340.50" y1="1278.30" x2="1352.50" y2="1278.30" stroke="#b0b0b0" stroke-width="4"/>
<line x1="1636.70" y1="1150.60" x2="1636.70" y2="1235.10" stroke="#a6a6a6" stroke-width="4"/>
<line x1="1630.70" y1="1150.60" x2="1642.70" y2="1150.60" stroke="#a6a6a6" stroke-width="4"/>
<line x1="1753.70" y1="1158.90" x2="1753.70" y2="1201.50" stroke="#000" stroke-width="2.6"/>
<line x1="1747.70" y1="1158.90" x2="1759.70" y2="1158.90" stroke="#000" stroke-width="2.6"/>
<line x1="1348.30" y1="1095.10" x2="1754.90" y2="1095.10" stroke="#000" stroke-width="3"/>
<text x="1541.42" y="1100.00" font-size="40" fill="#000" textLength="15.57" lengthAdjust="spacingAndGlyphs">*</text>
<rect x="1092.90" y="953.20" width="37.80" height="39.60" fill="#000"/>
<text x="1136.56" y="988.20" font-size="48" fill="#000" textLength="146.74" lengthAdjust="spacingAndGlyphs">RetSat</text>
<text x="1282.65" y="976.50" font-size="48" fill="#000" textLength="69.40" lengthAdjust="spacingAndGlyphs">+/+</text>
<rect x="1361.90" y="953.20" width="41.30" height="39.60" fill="#808080"/>
<text x="1410.06" y="988.20" font-size="48" fill="#000" textLength="146.74" lengthAdjust="spacingAndGlyphs">RetSat</text>
<text x="1555.89" y="976.50" font-size="48" fill="#000" textLength="45.31" lengthAdjust="spacingAndGlyphs">-/-</text>
<text transform="translate(986.20,1600.00) rotate(-90)" x="-0.20" y="0" font-size="48" fill="#000" textLength="600.29" lengthAdjust="spacingAndGlyphs"># of ingested cells/100 Mϕs</text>
<text x="1157.24" y="1641.30" font-size="48" fill="#000" textLength="268.66" lengthAdjust="spacingAndGlyphs">Long phago.</text>
<text x="1554.04" y="1641.30" font-size="48" fill="#000" textLength="268.56" lengthAdjust="spacingAndGlyphs">Long phago.</text>
<text x="1583.53" y="1690.00" font-size="48" fill="#000" textLength="211.35" lengthAdjust="spacingAndGlyphs">+MFG-E8</text>
<text x="646.25" y="1803.80" font-size="70" fill="#000" textLength="50.20" lengthAdjust="spacingAndGlyphs">C</text>
<text x="733.60" y="1806.00" font-size="52" font-weight="bold" fill="#000" textLength="579.75" lengthAdjust="spacingAndGlyphs">6x Dex.+ 9h irradiation</text>
<text x="817.22" y="1841.50" font-size="42" fill="#000" textLength="426.10" lengthAdjust="spacingAndGlyphs">remaining cell number:</text>
<rect x="740.80" y="1858.30" width="38.50" height="40.50" fill="#000"/>
<rect x="740.80" y="1902.10" width="38.50" height="38.70" fill="#808080"/>
<text x="783.21" y="1892.90" font-size="41" fill="#000" textLength="129.99" lengthAdjust="spacingAndGlyphs">RetSat</text>
<text x="913.81" y="1881.00" font-size="41" fill="#000" textLength="58.78" lengthAdjust="spacingAndGlyphs">+/+</text>
<text x="981.16" y="1884.10" font-size="43" fill="#000" textLength="361.48" lengthAdjust="spacingAndGlyphs">6.92E+06±3.5E+06</text>
<text x="783.21" y="1936.50" font-size="41" fill="#000" textLength="129.99" lengthAdjust="spacingAndGlyphs">RetSat</text>
<text x="911.57" y="1925.00" font-size="41" fill="#000" textLength="41.35" lengthAdjust="spacingAndGlyphs">-/-</text>
<text x="979.50" y="1935.00" font-size="43" fill="#000" textLength="360.94" lengthAdjust="spacingAndGlyphs">8.97E+06±2.1E+06</text>
<line x1="682.20" y1="1925.40" x2="682.20" y2="2586.00" stroke="#999" stroke-width="3"/>
<line x1="672.90" y1="2573.40" x2="682.20" y2="2573.40" stroke="#999" stroke-width="3"/>
<text x="638.80" y="2587.90" font-size="41" fill="#000" textLength="22.80" lengthAdjust="spacingAndGlyphs">0</text>
<line x1="672.90" y1="2492.80" x2="682.20" y2="2492.80" stroke="#999" stroke-width="3"/>
<text x="639.21" y="2507.30" font-size="41" fill="#000" textLength="22.80" lengthAdjust="spacingAndGlyphs">1</text>
<line x1="672.90" y1="2412.20" x2="682.20" y2="2412.20" stroke="#999" stroke-width="3"/>
<text x="639.25" y="2426.70" font-size="41" fill="#000" textLength="22.80" lengthAdjust="spacingAndGlyphs">2</text>
<line x1="672.90" y1="2331.60" x2="682.20" y2="2331.60" stroke="#999" stroke-width="3"/>
<text x="639.01" y="2346.10" font-size="41" fill="#000" textLength="22.80" lengthAdjust="spacingAndGlyphs">3</text>
<line x1="672.90" y1="2251.00" x2="682.20" y2="2251.00" stroke="#999" stroke-width="3"/>
<text x="638.39" y="2265.50" font-size="41" fill="#000" textLength="22.80" lengthAdjust="spacingAndGlyphs">4</text>
<line x1="672.90" y1="2170.40" x2="682.20" y2="2170.40" stroke="#999" stroke-width="3"/>
<text x="638.93" y="2184.90" font-size="41" fill="#000" textLength="22.80" lengthAdjust="spacingAndGlyphs">5</text>
<line x1="672.90" y1="2089.80" x2="682.20" y2="2089.80" stroke="#999" stroke-width="3"/>
<text x="639.01" y="2104.30" font-size="41" fill="#000" textLength="22.80" lengthAdjust="spacingAndGlyphs">6</text>
<line x1="672.90" y1="2009.20" x2="682.20" y2="2009.20" stroke="#999" stroke-width="3"/>
<text x="639.25" y="2023.70" font-size="41" fill="#000" textLength="22.80" lengthAdjust="spacingAndGlyphs">7</text>
<line x1="672.90" y1="1928.60" x2="682.20" y2="1928.60" stroke="#999" stroke-width="3"/>
<text x="638.97" y="1943.10" font-size="41" fill="#000" textLength="22.80" lengthAdjust="spacingAndGlyphs">8</text>
<line x1="672.90" y1="2573.50" x2="1465.00" y2="2573.50" stroke="#999" stroke-width="4.5"/>
<line x1="838.70" y1="2573.00" x2="838.70" y2="2586.00" stroke="#999" stroke-width="3"/>
<line x1="994.50" y1="2573.00" x2="994.50" y2="2586.00" stroke="#999" stroke-width="3"/>
<line x1="1150.00" y1="2573.00" x2="1150.00" y2="2586.00" stroke="#999" stroke-width="3"/>
<line x1="1305.70" y1="2573.00" x2="1305.70" y2="2586.00" stroke="#999" stroke-width="3"/>
<line x1="1462.50" y1="2573.00" x2="1462.50" y2="2586.00" stroke="#999" stroke-width="3"/>
<rect x="718.00" y="2371.09" width="43.10" height="200.91" fill="#000"/>
<rect x="761.10" y="2508.92" width="44.80" height="63.08" fill="#808080"/>
<line x1="739.55" y1="2300.17" x2="739.55" y2="2371.09" stroke="#000" stroke-width="3.6"/>
<line x1="732.05" y1="2300.62" x2="747.05" y2="2300.62" stroke="#000" stroke-width="4.5"/>
<line x1="783.50" y1="2468.62" x2="783.50" y2="2508.92" stroke="#000" stroke-width="3.6"/>
<line x1="776.00" y1="2469.07" x2="791.00" y2="2469.07" stroke="#000" stroke-width="4.5"/>
<rect x="874.30" y="2504.08" width="43.10" height="67.92" fill="#000"/>
<rect x="917.40" y="2445.25" width="43.60" height="126.75" fill="#808080"/>
<line x1="895.85" y1="2475.87" x2="895.85" y2="2504.08" stroke="#000" stroke-width="3.6"/>
<line x1="888.35" y1="2476.32" x2="903.35" y2="2476.32" stroke="#000" stroke-width="4.5"/>
<line x1="939.20" y1="2382.38" x2="939.20" y2="2445.25" stroke="#000" stroke-width="3.6"/>
<line x1="931.70" y1="2382.83" x2="946.70" y2="2382.83" stroke="#000" stroke-width="4.5"/>
<rect x="1028.30" y="2504.08" width="45.90" height="67.92" fill="#000"/>
<rect x="1074.20" y="2475.87" width="44.30" height="96.13" fill="#808080"/>
<line x1="1051.25" y1="2479.90" x2="1051.25" y2="2504.08" stroke="#000" stroke-width="3.6"/>
<line x1="1043.75" y1="2480.35" x2="1058.75" y2="2480.35" stroke="#000" stroke-width="4.5"/>
<line x1="1096.35" y1="2432.35" x2="1096.35" y2="2475.87" stroke="#000" stroke-width="3.6"/>
<line x1="1088.85" y1="2432.80" x2="1103.85" y2="2432.80" stroke="#000" stroke-width="4.5"/>
<rect x="1185.20" y="2371.09" width="44.20" height="200.91" fill="#000"/>
<rect x="1229.40" y="2155.89" width="43.10" height="416.11" fill="#808080"/>
<line x1="1207.30" y1="2325.15" x2="1207.30" y2="2371.09" stroke="#000" stroke-width="3.6"/>
<line x1="1199.80" y1="2325.60" x2="1214.80" y2="2325.60" stroke="#000" stroke-width="4.5"/>
<line x1="1250.95" y1="2050.31" x2="1250.95" y2="2155.89" stroke="#000" stroke-width="3.6"/>
<line x1="1243.45" y1="2050.76" x2="1258.45" y2="2050.76" stroke="#000" stroke-width="4.5"/>
<rect x="1342.60" y="2343.69" width="43.10" height="228.31" fill="#000"/>
<rect x="1385.70" y="2112.37" width="44.80" height="459.63" fill="#808080"/>
<line x1="1364.15" y1="2287.27" x2="1364.15" y2="2343.69" stroke="#000" stroke-width="3.6"/>
<line x1="1356.65" y1="2287.72" x2="1371.65" y2="2287.72" stroke="#000" stroke-width="4.5"/>
<line x1="1408.10" y1="2002.75" x2="1408.10" y2="2112.37" stroke="#000" stroke-width="3.6"/>
<line x1="1400.60" y1="2003.20" x2="1415.60" y2="2003.20" stroke="#000" stroke-width="4.5"/>
<path d="M1370.2,2086.1 L1370.2,1968.3 L1404.6,1968.3 L1404.6,1996" fill="none" stroke="#000" stroke-width="1.6"/>
<text x="1379.48" y="1975.00" font-size="32" fill="#000" textLength="12.45" lengthAdjust="spacingAndGlyphs">*</text>
<text transform="translate(615.30,2395.30) rotate(-90)" x="-1.76" y="0" font-size="41" fill="#000" textLength="309.19" lengthAdjust="spacingAndGlyphs">cell number (x10</text>
<text transform="translate(601.90,2086.10) rotate(-90)" x="-2.22" y="0" font-size="41" fill="#000" textLength="24.25" lengthAdjust="spacingAndGlyphs">6</text>
<text transform="translate(615.30,2061.80) rotate(-90)" x="-0.23" y="0" font-size="41" fill="#000" textLength="12.57" lengthAdjust="spacingAndGlyphs">)</text>
<text x="711.04" y="2618.60" font-size="42" fill="#000" textLength="68.87" lengthAdjust="spacingAndGlyphs">CD4</text>
<text x="779.94" y="2608.00" font-size="42" fill="#000" textLength="19.83" lengthAdjust="spacingAndGlyphs">+</text>
<text x="711.03" y="2653.40" font-size="42" fill="#000" textLength="69.38" lengthAdjust="spacingAndGlyphs">CD8</text>
<text x="779.94" y="2641.80" font-size="42" fill="#000" textLength="19.83" lengthAdjust="spacingAndGlyphs">+</text>
<text x="879.74" y="2618.60" font-size="42" fill="#000" textLength="68.87" lengthAdjust="spacingAndGlyphs">CD4</text>
<text x="948.64" y="2608.00" font-size="42" fill="#000" textLength="19.83" lengthAdjust="spacingAndGlyphs">+</text>
<text x="1030.53" y="2617.80" font-size="42" fill="#000" textLength="69.38" lengthAdjust="spacingAndGlyphs">CD8</text>
<text x="1103.30" y="2604.50" font-size="42" fill="#000" textLength="15.50" lengthAdjust="spacingAndGlyphs">+</text>
<text x="1191.67" y="2616.50" font-size="42" fill="#000" textLength="68.04" lengthAdjust="spacingAndGlyphs">CD4</text>
<text x="1261.64" y="2605.50" font-size="42" fill="#000" textLength="9.51" lengthAdjust="spacingAndGlyphs">-</text>
<text x="1191.65" y="2651.50" font-size="42" fill="#000" textLength="68.54" lengthAdjust="spacingAndGlyphs">CD8</text>
<text x="1261.64" y="2640.50" font-size="42" fill="#000" textLength="9.51" lengthAdjust="spacingAndGlyphs">-</text>
<text x="1322.73" y="2618.40" font-size="42" fill="#000" textLength="125.21" lengthAdjust="spacingAndGlyphs">Annexin</text>
<text x="1363.95" y="2654.40" font-size="42" fill="#000" textLength="20.00" lengthAdjust="spacingAndGlyphs">V</text>
<text x="1387.98" y="2642.00" font-size="42" fill="#000" textLength="16.94" lengthAdjust="spacingAndGlyphs">+</text>
</svg>
</body></html>
